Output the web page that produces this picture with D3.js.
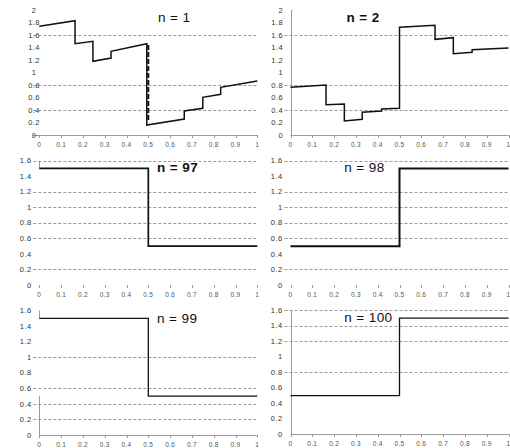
<!DOCTYPE html>
<html>
<head>
<meta charset="utf-8">
<script src="https://cdn.jsdelivr.net/npm/d3@7"></script>
<style>
  html, body { margin: 0; padding: 0; background: #fff; }
  svg { display: block; }
  .tick-y { font-family: "Liberation Sans", Arial, sans-serif; font-size: 7.5px; fill: #333; letter-spacing: 0.4px; }
  .tick-x { font-family: "Liberation Sans", Arial, sans-serif; font-size: 6.5px; fill: #555; letter-spacing: 0.3px; }
  .title { font-family: "Liberation Sans", Arial, sans-serif; font-size: 13.5px; fill: #111; letter-spacing: 0.4px; }
</style>
</head>
<body>
<svg id="chart" width="510" height="448"></svg>
<script>
// Shared tick values and labels
const xTicks = [0, 0.1, 0.2, 0.3, 0.4, 0.5, 0.6, 0.7, 0.8, 0.9, 1];
const xTickLabels = ["0", "0.1", "0.2", "0.3", "0.4", "0.5", "0.6", "0.7", "0.8", "0.9", "1"];
const yTicksWide = [0, 0.2, 0.4, 0.6, 0.8, 1, 1.2, 1.4, 1.6, 1.8, 2];
const yTickLabelsWide = ["0", "0.2", "0.4", "0.6", "0.8", "1", "1.2", "1.4", "1.6", "1.8", "2"];
const yTicksNarrow = [0, 0.2, 0.4, 0.6, 0.8, 1, 1.2, 1.4, 1.6];
const yTickLabelsNarrow = ["0", "0.2", "0.4", "0.6", "0.8", "1", "1.2", "1.4", "1.6"];

// Partial sums after n terms: x positions and values
const n1X = [0, 0.164, 0.164, 0.246, 0.246, 0.329, 0.329, 0.493, 0.493, 0.665, 0.665, 0.75, 0.75, 0.832, 0.832, 1];
const n1Y = [1.739, 1.829, 1.461, 1.499, 1.179, 1.232, 1.339, 1.461, 0.16, 0.256, 0.384, 0.427, 0.603, 0.651, 0.763, 0.864];
const n1JumpX = 0.5;
const n1JumpFrom = 1.44;
const n1JumpTo = 0.24;

const n2X = [0, 0.163, 0.163, 0.247, 0.247, 0.329, 0.329, 0.418, 0.418, 0.5, 0.5, 0.663, 0.663, 0.747, 0.747, 0.833, 0.833, 1];
const n2Y = [0.763, 0.80, 0.485, 0.496, 0.224, 0.251, 0.363, 0.384, 0.416, 0.427, 1.723, 1.755, 1.531, 1.557, 1.301, 1.323, 1.365, 1.392];

const n97X = [0, 0.5, 0.5, 1];
const n97Y = [1.5, 1.5, 0.5, 0.5];
const n98X = [0, 0.5, 0.5, 1];
const n98Y = [0.5, 0.5, 1.5, 1.5];
const n99X = [0, 0.5, 0.5, 1];
const n99Y = [1.5, 1.5, 0.5, 0.5];
const n100X = [0, 0.5, 0.5, 1];
const n100Y = [0.5, 0.5, 1.5, 1.5];

const titles = ["n = 1", "n = 2", "n = 97", "n = 98", "n = 99", "n = 100"];

// Panel layout and styling
const panels = [
  { xs: n1X, ys: n1Y, title: titles[0], left: 39.3, right: 257.3, y0: 135, yTop: 10, yMax: 2,
    ticks: yTicksWide, tickLabels: yTickLabelsWide, labelX: 34, anchor: "middle",
    grid: [1.6, 0.8, 0.4], xAxisFrom: 33, yAxis: [], lineW: 1.5,
    titleX: 158, titleY: 22, bold: false },
  { xs: n2X, ys: n2Y, title: titles[1], left: 290.5, right: 508.5, y0: 135, yTop: 10, yMax: 2,
    ticks: yTicksWide, tickLabels: yTickLabelsWide, labelX: 283, anchor: "end",
    grid: [1.6, 0.8, 0.4], xAxisFrom: 290.5, yAxis: [[0, 2]], lineW: 1.5,
    titleX: 346.5, titleY: 21.7, bold: true },
  { xs: n97X, ys: n97Y, title: titles[2], left: 39.3, right: 257.3, y0: 285, yTop: 160.7, yMax: 1.6,
    ticks: yTicksNarrow, tickLabels: yTickLabelsNarrow, labelX: 31.5, anchor: "end",
    grid: [1.6, 1.2, 1, 0.8, 0.6, 0.2], xAxisFrom: null, yAxis: [[1.5, 1.6]], lineW: 1.7,
    titleX: 157, titleY: 171.7, bold: true },
  { xs: n98X, ys: n98Y, title: titles[3], left: 290.5, right: 508.5, y0: 285, yTop: 160.7, yMax: 1.6,
    ticks: yTicksNarrow, tickLabels: yTickLabelsNarrow, labelX: 282.5, anchor: "end",
    grid: [1.6, 1.2, 1, 0.8, 0.6, 0.2], xAxisFrom: null, yAxis: [], lineW: 2,
    titleX: 344.3, titleY: 172, bold: false },
  { xs: n99X, ys: n99Y, title: titles[4], left: 39.3, right: 257.3, y0: 435, yTop: 310.7, yMax: 1.6,
    ticks: yTicksNarrow, tickLabels: yTickLabelsNarrow, labelX: 31.5, anchor: "end",
    grid: [1, 0.6, 0.4, 0.2], xAxisFrom: 39.3, yAxis: [[1.5, 1.6], [0, 0.5]], lineW: 1.3,
    titleX: 157, titleY: 323.3, bold: false },
  { xs: n100X, ys: n100Y, title: titles[5], left: 290.5, right: 508.5, y0: 434.3, yTop: 310.3, yMax: 1.6,
    ticks: yTicksNarrow, tickLabels: yTickLabelsNarrow, labelX: 282.5, anchor: "end",
    grid: [1.6, 1.4, 1.2, 0.8], xAxisFrom: 290.5, yAxis: [[0, 1.6]], lineW: 1.3,
    titleX: 344.3, titleY: 321.7, bold: false }
];

const svg = d3.select("#chart");

panels.forEach((p, i) => {
  const x = d3.scaleLinear().domain([0, 1]).range([p.left, p.right]);
  const y = d3.scaleLinear().domain([0, p.yMax]).range([p.y0, p.yTop]);
  const g = svg.append("g").attr("class", "panel-" + i);

  // dashed horizontal gridlines
  g.selectAll("line.grid").data(p.grid).enter().append("line")
    .attr("class", "grid")
    .attr("x1", p.left - 6).attr("x2", p.right)
    .attr("y1", d => Math.round(y(d)) + 0.5).attr("y2", d => Math.round(y(d)) + 0.5)
    .attr("stroke", "#9a9a9a").attr("stroke-width", 1)
    .attr("stroke-dasharray", "3,2");

  // x axis baseline
  if (p.xAxisFrom !== null) {
    g.append("line")
      .attr("x1", p.xAxisFrom).attr("x2", p.right)
      .attr("y1", Math.round(p.y0) + 0.5).attr("y2", Math.round(p.y0) + 0.5)
      .attr("stroke", "#9a9a9a").attr("stroke-width", 1);
  }
  // x tick marks
  g.selectAll("line.xt").data(xTicks).enter().append("line")
    .attr("class", "xt")
    .attr("x1", d => Math.round(x(d)) + 0.5).attr("x2", d => Math.round(x(d)) + 0.5)
    .attr("y1", Math.round(p.y0)).attr("y2", Math.round(p.y0) + 3)
    .attr("stroke", "#9a9a9a").attr("stroke-width", 1);

  // visible pieces of the y axis
  p.yAxis.forEach(seg => {
    g.append("line")
      .attr("x1", Math.round(p.left) + 0.5).attr("x2", Math.round(p.left) + 0.5)
      .attr("y1", y(seg[0])).attr("y2", y(seg[1]))
      .attr("stroke", "#9a9a9a").attr("stroke-width", 1);
  });

  // y tick labels
  g.selectAll("text.ty").data(p.ticks).enter().append("text")
    .attr("class", "tick-y")
    .attr("x", p.labelX).attr("y", d => y(d))
    .attr("dy", "0.35em")
    .attr("text-anchor", p.anchor)
    .text((d, k) => p.tickLabels[k]);

  // x tick labels
  g.selectAll("text.tx").data(xTicks).enter().append("text")
    .attr("class", "tick-x")
    .attr("x", d => x(d)).attr("y", p.y0 + 12)
    .attr("text-anchor", "middle")
    .text((d, k) => xTickLabels[k]);

  // the partial-sum curve
  const pts = p.xs.map((v, k) => [v, p.ys[k]]);
  g.append("path")
    .datum(pts)
    .attr("fill", "none")
    .attr("stroke", "#111")
    .attr("stroke-width", p.lineW)
    .attr("stroke-linejoin", "miter")
    .attr("d", d3.line().x(d => x(d[0])).y(d => y(d[1])));

  if (i === 0) {
    // dashed marker at the jump discontinuity
    g.append("line")
      .attr("x1", x(n1JumpX)).attr("x2", x(n1JumpX))
      .attr("y1", y(n1JumpFrom)).attr("y2", y(n1JumpTo))
      .attr("stroke", "#111").attr("stroke-width", 2)
      .attr("stroke-dasharray", "5,2");
  }

  // panel title
  g.append("text")
    .attr("class", "title")
    .attr("x", p.titleX).attr("y", p.titleY)
    .attr("font-weight", p.bold ? "bold" : "normal")
    .text(p.title);
});
</script>
</body>
</html>
